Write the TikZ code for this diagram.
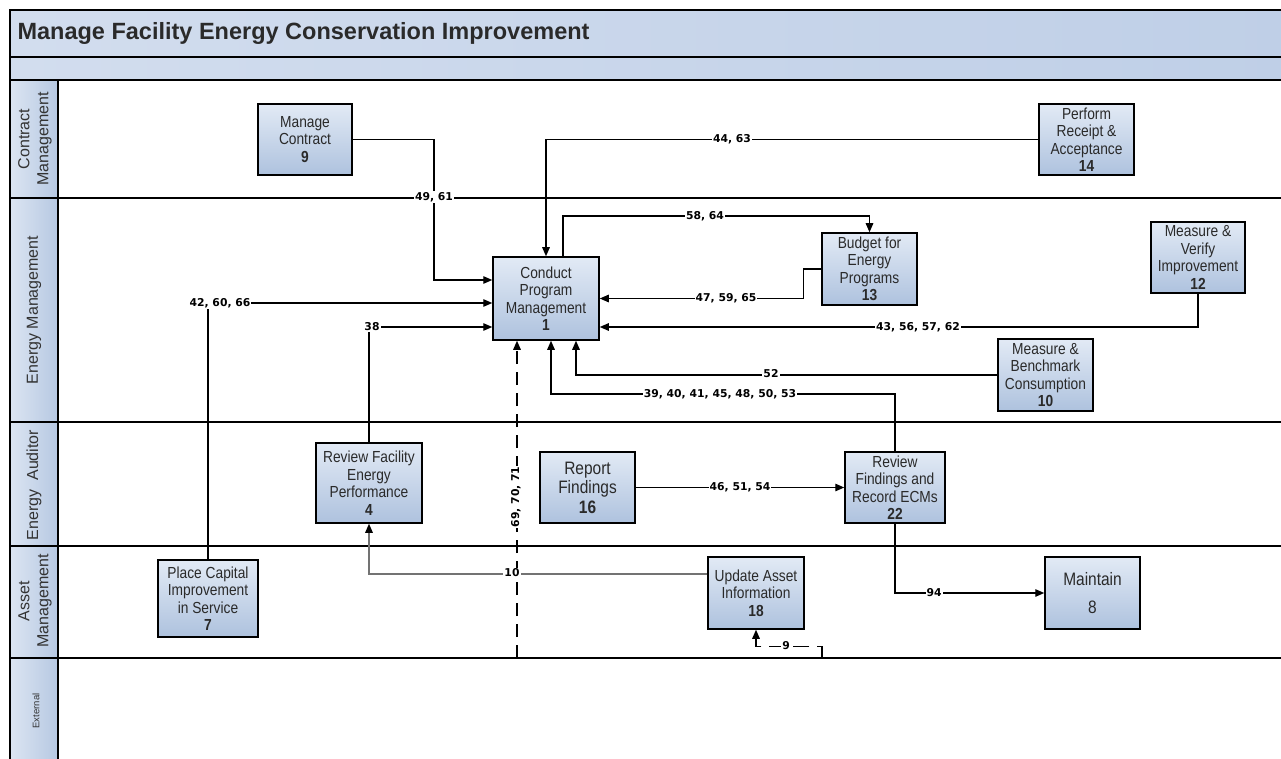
\documentclass[tikz,border=0pt]{standalone}
\usepackage{fontspec}
\setmainfont{Liberation Sans}
\newfontfamily\lblfam{DejaVu Sans}
\newfontfamily\boxfam{Liberation Sans}[FakeStretch=0.86]
\usetikzlibrary{arrows.meta,calc}
\definecolor{boxtop}{HTML}{E2EAF5}
\definecolor{boxbot}{HTML}{AEC2DE}
\definecolor{titleL}{HTML}{D2DDEE}
\definecolor{titleR}{HTML}{BFCFE7}
\definecolor{laneL}{HTML}{DCE5F2}
\definecolor{laneR}{HTML}{B6C8E2}
\definecolor{txt}{HTML}{2A2A2A}
\begin{document}
\begin{tikzpicture}[x=1pt,y=-1pt,
  box/.style 2 args={draw=black, line width=1.5pt, top color=boxtop, bottom color=boxbot,
    minimum width=#1, minimum height=#2, align=center, inner sep=0pt, text=txt,
    font=\boxfam\fontsize{16}{17.5}\selectfont},
  conn/.style={line width=1.3pt, -{Triangle[length=9pt,width=7.5pt,color=black]}},
  lbl/.style={fill=white, inner sep=1pt, font=\lblfam\bfseries\fontsize{10.8}{12}\selectfont},
  lane/.style={line width=1.8pt},
  lanetxt/.style={rotate=90, align=center, text=black!80, font=\fontsize{16}{19}\selectfont}]
\useasboundingbox (0,0) rectangle (1281,759);
\clip (0,0) rectangle (1281,759);
% frame
\shade[left color=titleL, right color=titleR] (10,10) rectangle (1290,57);
\shade[left color=titleL, right color=titleR] (10,57) rectangle (1290,80);
\shade[left color=laneL, right color=laneR] (10,80) rectangle (58,770);
\draw[lane] (1290,10) -- (10,10) -- (10,770);
\draw[lane] (10,57) -- (1290,57);
\draw[line width=1.2pt] (10,80) -- (1290,80);
\draw[lane] (58,80) -- (58,770);
\foreach \yy in {198,422,546,658} \draw[lane] (10,\yy) -- (1290,\yy);
% title
\node[anchor=west, text=txt, font=\bfseries\fontsize{23.5}{26}\selectfont] (title) at (14,33) {Manage Facility Energy Conservation Improvement};
% lane labels
\node[lanetxt] (lCM) at (35,139) {Contract\\Management};
\node[lanetxt] (lEM) at (34,310) {Energy Management};
\node[lanetxt] (lEA) at (34,485) {Energy\ \ Auditor};
\node[lanetxt] (lAM) at (35,601) {Asset\\Management};
\node[lanetxt, font=\fontsize{9.5}{11}\selectfont] (lEX) at (36,711) {External};
% nodes
\node[box={94pt}{71pt}] (n9) at (305,139.5) {Manage\\Contract\\\textbf{9}};
\node[box={95pt}{71pt}] (n14) at (1086.5,139.5) {Perform\\Receipt \&\\Acceptance\\\textbf{14}};
\node[box={106pt}{83pt}] (n1) at (546,298.5) {Conduct\\Program\\Management\\\textbf{1}};
\node[box={95pt}{72pt}] (n13) at (869.5,269) {Budget for\\Energy\\Programs\\\textbf{13}};
\node[box={94pt}{71pt}] (n12) at (1198,257.5) {Measure \&\\Verify\\Improvement\\\textbf{12}};
\node[box={95pt}{72pt}] (n10) at (1045.5,375) {Measure \&\\Benchmark\\Consumption\\\textbf{10}};
\node[box={106pt}{80pt}] (n4) at (369,483) {Review Facility\\Energy\\Performance\\\textbf{4}};
\node[box={95pt}{71pt}, font=\boxfam\fontsize{18}{19.5}\selectfont] (n16) at (587.5,487.5) {Report\\Findings\\\textbf{16}};
\node[box={100pt}{71pt}] (n22) at (895,487.5) {Review\\Findings and\\Record ECMs\\\textbf{22}};
\node[box={100pt}{77pt}] (n7) at (208,598.5) {Place Capital\\Improvement\\in Service\\\textbf{7}};
\node[box={96pt}{72pt}] (n18) at (756,593) {Update Asset\\Information\\\textbf{18}};
\node[box={95pt}{72pt}, font=\boxfam\fontsize{18}{19}\selectfont] (n8) at (1092.5,593) {Maintain\\[9pt]8};
% connectors
\coordinate (ext) at (517,658);
\coordinate (ext9) at (822,658);
\draw[conn] (n9.east) -| (434,280) -- (n1.west |- 0,280);
\draw[conn] (n14.west) -| (n1.north);
\draw[conn] ($(n1.north)+(17,0)$) |- (n13.north |- 0,216) -- (n13.north);
\draw[conn] (n13.west) -- ++(-18,0) |- (n1.east);
\draw[conn] (n12.south) |- (n1.east |- 0,327);
\draw[conn] (n10.west) -| ($(n1.south)+(30,0)$);
\draw[conn] (n22.north) |- (551,394) -- ($(n1.south)+(5,0)$);
\draw[conn] (n7.north) |- (n1.west |- 0,303);
\draw[conn] (n4.north) |- (n1.west |- 0,327);
\draw[conn, dash pattern=on 13pt off 8pt] (ext) -- ($(n1.south)+(-29,0)$);
\draw[conn] (n16.east) -- (n22.west);
\draw[conn, color=black!55] ($(n18.west)+(0,-19)$) -| (n4.south);
\draw[conn] (n22.south) |- (n8.west);
\draw[conn, dash pattern=on 16pt off 8pt] (ext9) |- ($(n18.south)+(0,17)$) -- (n18.south);
% labels
\node[lbl] (L1) at (434,197) {49, 61};
\node[lbl] (L2) at (732,139) {44, 63};
\node[lbl] (L3) at (705,216) {58, 64};
\node[lbl] (L4) at (726,298) {47, 59, 65};
\node[lbl] (L5) at (918,327) {43, 56, 57, 62};
\node[lbl] (L6) at (771,374) {52};
\node[lbl] (L7) at (720,394) {39, 40, 41, 45, 48, 50, 53};
\node[lbl] (L8) at (220,303) {42, 60, 66};
\node[lbl] (L9) at (372,327) {38};
\node[lbl, rotate=90] (L10) at (516,497) {69, 70, 71};
\node[lbl] (L11) at (740,487) {46, 51, 54};
\node[lbl] (L12) at (512,573) {10};
\node[lbl] (L13) at (934,593) {94};
\node[lbl] (L14) at (786,646) {9};
\end{tikzpicture}
\end{document}
